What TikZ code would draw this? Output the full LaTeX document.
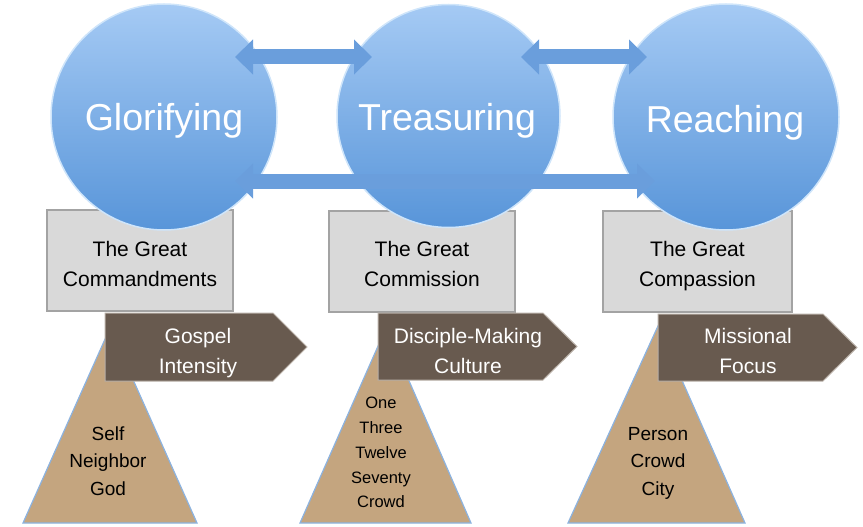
\documentclass[tikz,border=0pt]{standalone}
\usepackage{fontspec}
\setmainfont{Liberation Sans}
\usetikzlibrary{arrows.meta}
\definecolor{circtop}{HTML}{A5CAF4}
\definecolor{circbot}{HTML}{5895D9}
\definecolor{circrim}{HTML}{CFE5FA}
\definecolor{bluearr}{HTML}{6A9EDC}
\definecolor{boxfill}{HTML}{D9D9D9}
\definecolor{boxline}{HTML}{A3A3A3}
\definecolor{brownfill}{HTML}{685A4F}
\definecolor{brownline}{HTML}{B9B0A7}
\definecolor{tanfill}{HTML}{C4A57F}
\definecolor{tanline}{HTML}{8CB3E0}
\tikzset{
  circnode/.style={circle, inner sep=0pt, minimum size=226pt, top color=circtop, bottom color=circbot, draw=circrim, line width=1.5pt},
  circtext/.style={anchor=base, text=white, font=\fontsize{37.5}{40}\selectfont},
  greatbox/.style={rectangle, minimum height=101pt, fill=boxfill, draw=boxline, line width=2pt},
  boxtext/.style={align=center, font=\fontsize{21}{30}\selectfont},
  blueconn/.style={line width=15pt, draw=bluearr, {Triangle[width=34pt,length=18pt]}-{Triangle[width=34pt,length=18pt]}},
  brownshape/.style={fill=brownfill, draw=brownline, line width=1pt, line join=miter},
  browntext/.style={text=white, align=center, font=\fontsize{21}{30}\selectfont},
  tanshape/.style={fill=tanfill, draw=tanline, line width=1.2pt},
  tantext/.style={align=center, font=\fontsize{19}{27.5}\selectfont},
  tantextsmall/.style={align=center, font=\fontsize{16.5}{24.75}\selectfont}
}
\begin{document}
\begin{tikzpicture}[x=1pt,y=-1pt]
\useasboundingbox (0,0) rectangle (863,527);
% boxes
\node[greatbox, minimum width=186pt] (b1) at (140,260.5) {};
\node[greatbox, minimum width=186pt] (b2) at (422,261) {};
\node[greatbox, minimum width=189pt] (b3) at (697.5,261) {};
% circles
\node[circnode] (c1) at (164,117) {};
\node[circnode, minimum size=223pt] (c2) at (448.5,116) {};
\node[circnode] (c3) at (726,117) {};
\node[circtext] (t1) at (164,131) {Glorifying};
\node[circtext] (t2) at (447,130) {Treasuring};
\node[circtext] (t3) at (725,132) {Reaching};
\node[boxtext] (bt1) at (140,265) {\strut The Great\\\strut Commandments};
\node[boxtext] (bt2) at (422,265) {\strut The Great\\\strut Commission};
\node[boxtext] (bt3) at (697.5,265) {\strut The Great\\\strut Compassion};
% blue connectors
\coordinate (a1l) at (235,57);
\coordinate (a1r) at (372,57);
\coordinate (a2l) at (521,57);
\coordinate (a2r) at (647,57);
\coordinate (a3l) at (235,181);
\coordinate (a3r) at (655,181);
\draw[blueconn] (a1l) -- (a1r);
\draw[blueconn] (a2l) -- (a2r);
\draw[blueconn] (a3l) -- (a3r);
% triangles
\draw[tanshape] (110,328) -- (197,523) -- (23,523) -- cycle;
\draw[tanshape] (386,328) -- (471,523) -- (300,523) -- cycle;
\draw[tanshape] (658,326) -- (745,523) -- (568,523) -- cycle;
\node[tantext] (s1) at (108,462) {\strut Self\\\strut Neighbor\\\strut God};
\node[tantextsmall] (s2) at (381,453.5) {\strut One\\\strut Three\\\strut Twelve\\\strut Seventy\\\strut Crowd};
\node[tantext] (s3) at (658,462) {\strut Person\\\strut Crowd\\\strut City};
% brown arrows
\draw[brownshape] (105,313) -- (273,313) -- (307,347) -- (273,381) -- (105,381) -- cycle;
\draw[brownshape] (378,313) -- (543,313) -- (577,346.5) -- (543,380) -- (378,380) -- cycle;
\draw[brownshape] (658,314) -- (823,314) -- (857,347.5) -- (823,381) -- (658,381) -- cycle;
\node[browntext] (p1) at (198,352) {\strut Gospel\\\strut Intensity};
\node[browntext] (p2) at (468,352) {\strut Disciple-Making\\\strut Culture};
\node[browntext] (p3) at (748,352) {\strut Missional\\\strut Focus};
\end{tikzpicture}
\end{document}
